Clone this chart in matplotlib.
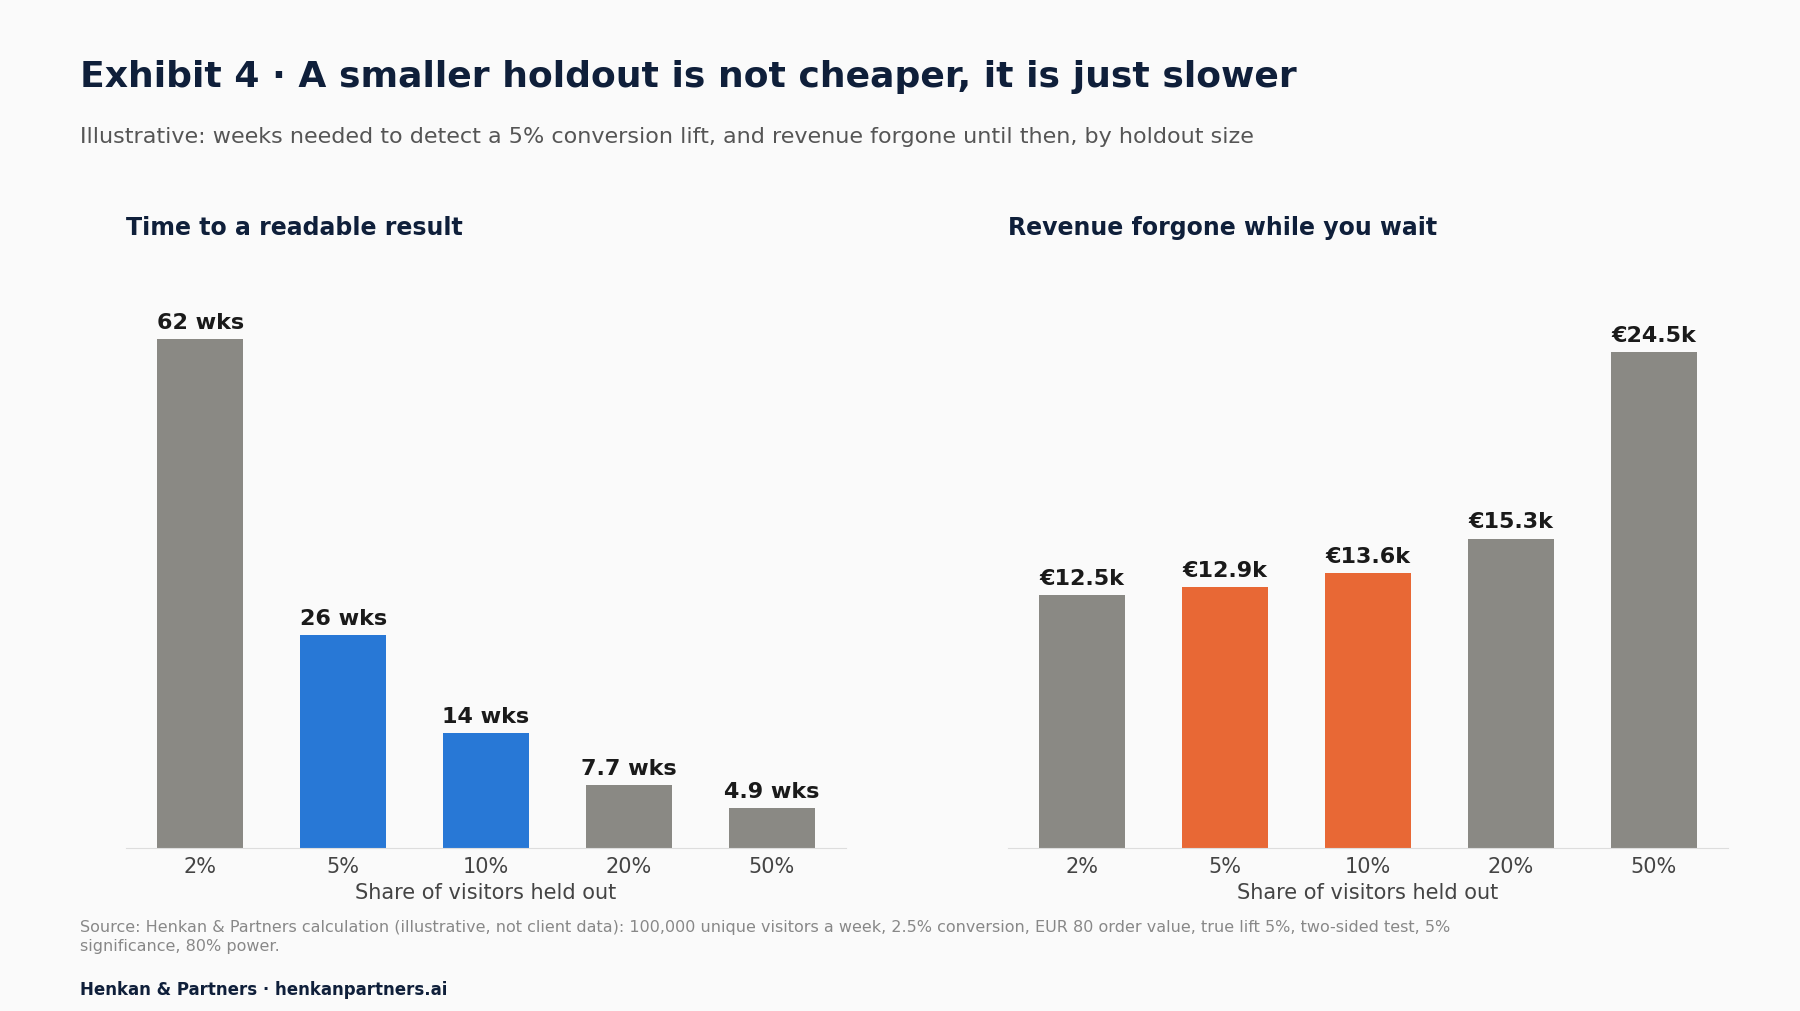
import numpy as np
import matplotlib.pyplot as plt

holdout = ["2%", "5%", "10%", "20%", "50%"]
weeks = [62, 26, 14, 7.7, 4.9]
week_labels = ["62 wks", "26 wks", "14 wks", "7.7 wks", "4.9 wks"]
revenue = [12.5, 12.9, 13.6, 15.3, 24.5]
rev_labels = ["€12.5k", "€12.9k", "€13.6k", "€15.3k", "€24.5k"]

gray = "#8a8984"
blue = "#2878d6"
orange = "#e86835"
navy = "#0f1f3a"
bg = "#fafafa"

fig = plt.figure(figsize=(18, 10.12), dpi=100, facecolor=bg)

fig.text(0.0446, 0.924, "Exhibit 4 · A smaller holdout is not cheaper, it is just slower",
         fontsize=26, fontweight="bold", color=navy, va="center")
fig.text(0.0446, 0.865, "Illustrative: weeks needed to detect a 5% conversion lift, and revenue forgone until then, by holdout size",
         fontsize=16, color="#555555", va="center")

def panel(left, vals, labels, colors, title, ymax):
    ax = fig.add_axes([left, 0.161, 0.400, 0.578])
    ax.set_facecolor(bg)
    x = np.arange(len(vals))
    ax.bar(x, vals, width=0.6, color=colors)
    for xi, v, l in zip(x, vals, labels):
        ax.text(xi, v + ymax * 0.012, l, ha="center", va="bottom", fontsize=16,
                fontweight="bold", color="#1a1a1a")
    ax.set_xlim(-0.52, 4.52)
    ax.set_ylim(0, ymax)
    ax.set_xticks(x)
    ax.set_xticklabels(holdout, fontsize=15, color="#444444")
    ax.tick_params(axis="x", length=0, pad=6)
    ax.set_yticks([])
    for s in ["top", "right", "left"]:
        ax.spines[s].set_visible(False)
    ax.spines["bottom"].set_color("#dddddd")
    ax.set_xlabel("Share of visitors held out", fontsize=15, color="#444444", labelpad=4)
    fig.text(left, 0.775, title, fontsize=17, fontweight="bold", color=navy, va="center")
    return ax

panel(0.070, weeks, week_labels, [gray, blue, blue, gray, gray],
      "Time to a readable result", max(weeks) * 1.15)
panel(0.560, revenue, rev_labels, [gray, orange, orange, gray, gray],
      "Revenue forgone while you wait", max(revenue) * 1.18)

fig.text(0.0446, 0.074, "Source: Henkan & Partners calculation (illustrative, not client data): 100,000 unique visitors a week, 2.5% conversion, EUR 80 order value, true lift 5%, two-sided test, 5%\nsignificance, 80% power.",
         fontsize=11.5, color="#888888", va="center", linespacing=1.3)
fig.text(0.0446, 0.022, "Henkan & Partners · henkanpartners.ai",
         fontsize=12, fontweight="bold", color=navy, va="center")

fig.savefig("out.png", dpi=100, facecolor=bg)
